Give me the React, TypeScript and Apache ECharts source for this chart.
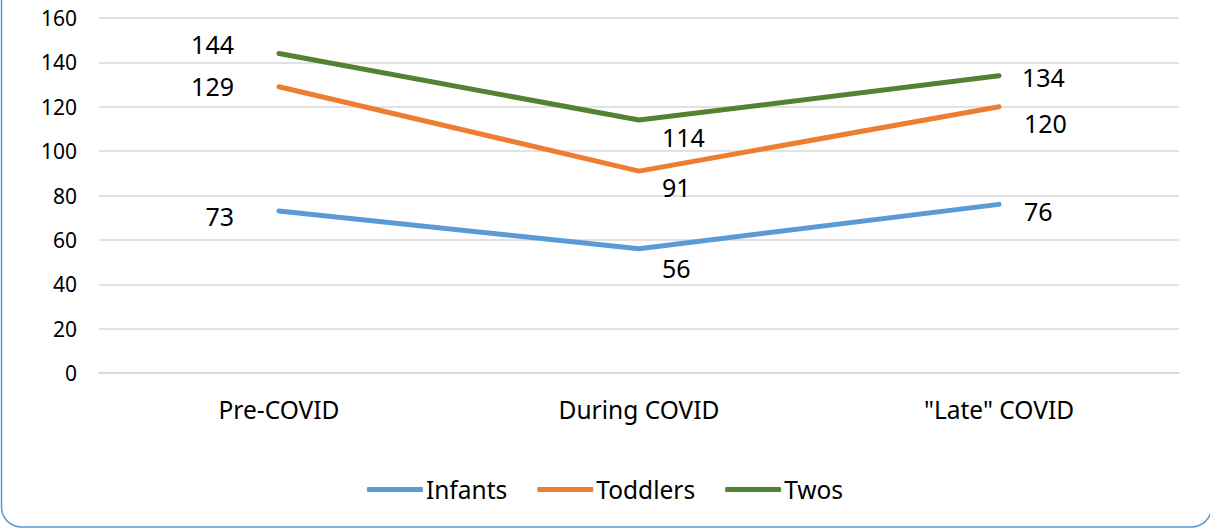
import React, { useEffect, useRef } from "react";
import * as echarts from "echarts";

const categories = ["Pre-COVID", "During COVID", "\"Late\" COVID"];
const seriesNames = ["Infants", "Toddlers", "Twos"];
const infants = [73, 56, 76];
const toddlers = [129, 91, 120];
const twos = [144, 114, 134];
const yTicks = { min: 0, max: 160, interval: 20 };

const colors = ["#5B9BD5", "#ED7D31", "#548235"];
// label placement (styling only): [align, dx, dy] per point
const labelPlacement = [
  [["right", -45, 5], ["left", 23, 19], ["left", 25, 7]],
  [["right", -45, -1], ["left", 23, 16], ["left", 25, 16]],
  [["right", -45, -10], ["left", 23, 17], ["left", 23, 1]],
];

const FONT = "Noto Sans";

export default function App() {
  const ref = useRef<HTMLDivElement>(null);
  useEffect(() => {
    if (!ref.current) return;
    const chart = echarts.init(ref.current, undefined, { renderer: "svg" });
    const allData = [infants, toddlers, twos];
    chart.setOption({
      animation: false,
      backgroundColor: "#ffffff",
      textStyle: { fontFamily: FONT, color: "#000" },
      grid: { left: 99, right: 31, top: 18, bottom: 156 },
      legend: {
        data: seriesNames,
        bottom: 22,
        left: "center",
        itemWidth: 56,
        itemHeight: 5,
        itemGap: 30,
        icon: "roundRect",
        textStyle: { fontFamily: FONT, fontSize: 24.5, color: "#000", padding: [0, 0, 0, -2] },
      },
      xAxis: {
        type: "category",
        data: categories,
        boundaryGap: true,
        axisLine: { show: true, lineStyle: { color: "#D9D9D9", width: 1.5 } },
        axisTick: { show: false },
        axisLabel: { fontFamily: FONT, fontSize: 24.5, color: "#000", margin: 24 },
      },
      yAxis: {
        type: "value",
        min: yTicks.min,
        max: yTicks.max,
        interval: yTicks.interval,
        axisLine: { show: false },
        axisTick: { show: false },
        splitLine: { lineStyle: { color: "#D9D9D9", width: 1.5 } },
        axisLabel: { fontFamily: FONT, fontSize: 21, color: "#000", margin: 22 },
      },
      graphic: [
        {
          type: "rect",
          silent: true,
          shape: { x: 1.5, y: -40, width: 1210, height: 567, r: 20 },
          style: { fill: "none", stroke: "#5B9BD5", lineWidth: 1.5 },
        },
      ],
      series: seriesNames.map((name, si) => ({
        name,
        type: "line",
        symbol: "circle",
        symbolSize: 2,
        showSymbol: true,
        color: colors[si],
        lineStyle: { width: 5, color: colors[si], cap: "round" },
        itemStyle: { color: colors[si] },
        data: allData[si].map((v, i) => {
          const [align, dx, dy] = labelPlacement[si][i] as [string, number, number];
          return {
            value: v,
            label: {
              show: true,
              position: "inside",
              align,
              verticalAlign: "middle",
              offset: [dx, dy],
              fontFamily: FONT,
              fontSize: 25,
              color: "#000",
            },
          };
        }),
      })),
    });
    return () => chart.dispose();
  }, []);
  return (
    <div
      ref={ref}
      style={{ position: "absolute", left: 0, top: 0, width: 1210, height: 529 }}
    />
  );
}
